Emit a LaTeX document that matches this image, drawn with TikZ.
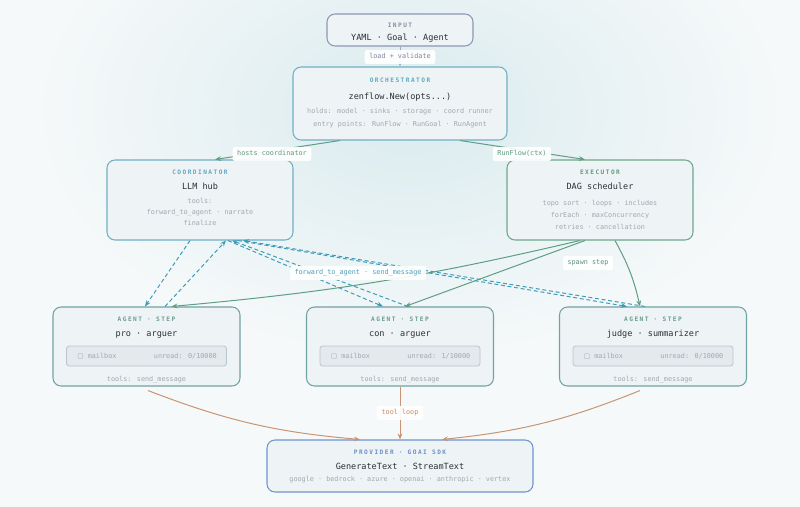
\documentclass[tikz,border=0pt]{standalone}
\usepackage{fontspec}
\setmainfont{DejaVu Sans Mono}
\newfontfamily\ttlfont[LetterSpace=24]{DejaVu Sans Mono}
\newfontfamily\symfont{DejaVu Sans}
\usetikzlibrary{arrows.meta,calc}
\definecolor{bgc}{HTML}{F6F9FA}
\definecolor{bgteal}{HTML}{DAEBEE}
\definecolor{boxfill}{HTML}{EEF3F5}
\definecolor{inputc}{HTML}{8E96B4}
\definecolor{orchc}{HTML}{6FB0C4}
\definecolor{execc}{HTML}{6FA88C}
\definecolor{agentc}{HTML}{70A3A4}
\definecolor{provc}{HTML}{7095CC}
\definecolor{mailfill}{HTML}{E3E9ED}
\definecolor{mailborder}{HTML}{B9C6CD}
\definecolor{inputT}{HTML}{8A90A8}
\definecolor{orchT}{HTML}{5FA9C3}
\definecolor{execT}{HTML}{5E9C80}
\definecolor{agentT}{HTML}{6B9C90}
\definecolor{provT}{HTML}{6D8FCC}
\definecolor{maintext}{HTML}{2A3137}
\definecolor{subtext}{HTML}{A0A9B0}
\definecolor{greenline}{HTML}{5F9E83}
\definecolor{dashc}{HTML}{3F9CB9}
\definecolor{orangec}{HTML}{C99473}
\definecolor{grayline}{HTML}{A0A8BC}
\definecolor{lblgray}{HTML}{7F879F}
\definecolor{lblgreen}{HTML}{5B9A7C}
\definecolor{lblteal}{HTML}{4F9FBC}
\definecolor{lblspawn}{HTML}{5F8F80}
\definecolor{lblorange}{HTML}{C98A60}
\begin{document}
\begin{tikzpicture}[x=0.75pt,y=-0.75pt,
  box/.style={draw, rounded corners=6pt, fill=boxfill, line width=0.8pt, inner sep=0pt},
  mailbx/.style={draw=mailborder, fill=mailfill, rounded corners=2pt, line width=0.6pt, inner sep=0pt, minimum width=120pt, minimum height=15pt},
  ttl/.style={font=\ttlfont\bfseries\fontsize{4.6}{5}\selectfont, inner sep=0pt, text height=3.4pt, text depth=0pt},
  maintxt/.style={font=\fontsize{6.4}{7.5}\selectfont, text=maintext, inner sep=0pt, text height=4.7pt, text depth=0pt},
  subtxt/.style={font=\fontsize{5.1}{6}\selectfont, text=subtext, inner sep=0pt, text height=3.7pt, text depth=0pt},
  lbl/.style={font=\fontsize{5.1}{6}\selectfont, fill=white, fill opacity=0.92, text opacity=1, rounded corners=1.5pt, inner xsep=3.5pt, inner ysep=2.6pt, text height=3.8pt, text depth=1.2pt},
  tip/.style={-{Stealth[length=4.5pt,width=3.6pt]}},
  conn/.style={tip, line width=0.75pt},
  dconn/.style={tip, line width=0.75pt, draw=dashc, dash pattern=on 3pt off 2pt}
]
\useasboundingbox (0,0) rectangle (800,507);
\begin{scope}
\clip (0,0) rectangle (800,507);
\fill[bgc] (0,0) rectangle (800,507);
\shade[inner color=bgteal, outer color=bgc] (410,110) ellipse (380 and 250);
\end{scope}

% ---------- boxes ----------
\node[box, draw=inputc, minimum width=109.5pt, minimum height=24pt] (input) at (400,30) {};
\node[ttl, text=inputT] (input-t) at (400,25) {INPUT};
\node[maintxt] (input-m) at (400,37) {YAML · Goal · Agent};

\node[box, draw=orchc, minimum width=160.5pt, minimum height=54.75pt] (orch) at (400,103.5) {};
\node[ttl, text=orchT] (orch-t) at (400,80) {ORCHESTRATOR};
\node[maintxt] (orch-m) at (400,96) {zenflow.New(opts...)};
\node[subtxt] (orch-s1) at (400,111) {holds: model · sinks · storage · coord runner};
\node[subtxt] (orch-s2) at (400,124) {entry points: RunFlow · RunGoal · RunAgent};

\node[box, draw=orchc, minimum width=139.5pt, minimum height=60pt] (coord) at (200,200) {};
\node[ttl, text=orchT] (coord-t) at (200,172) {COORDINATOR};
\node[maintxt] (coord-m) at (200,186) {LLM hub};
\node[subtxt] (coord-s1) at (200,201) {tools:};
\node[subtxt] (coord-s2) at (200,212) {forward\_to\_agent · narrate};
\node[subtxt] (coord-s3) at (200,223) {finalize};

\node[box, draw=execc, minimum width=139.5pt, minimum height=60pt] (exec) at (600,200) {};
\node[ttl, text=execT] (exec-t) at (600,172) {EXECUTOR};
\node[maintxt] (exec-m) at (600,186) {DAG scheduler};
\node[subtxt] (exec-s1) at (600,203) {topo sort · loops · includes};
\node[subtxt] (exec-s2) at (600,215) {forEach · maxConcurrency};
\node[subtxt] (exec-s3) at (600,227) {retries · cancellation};

% agents
\node[box, draw=agentc, minimum width=140.25pt, minimum height=59.25pt] (pro) at (146.5,346.5) {};
\node[ttl, text=agentT] (pro-t) at (146.5,319) {AGENT · STEP};
\node[maintxt] (pro-m) at (146.5,333) {pro · arguer};
\node[mailbx] (pro-mb) at (146.5,356) {};
\node[subtxt, anchor=west] (pro-ml) at (77,356) {{\symfont ▢} mailbox};
\node[subtxt, anchor=east] (pro-mr) at (217,356) {unread: 0/10000};
\node[subtxt] (pro-s) at (146.5,379) {tools: send\_message};

\node[box, draw=agentc, minimum width=140.25pt, minimum height=59.25pt] (con) at (400,346.5) {};
\node[ttl, text=agentT] (con-t) at (400,319) {AGENT · STEP};
\node[maintxt] (con-m) at (400,333) {con · arguer};
\node[mailbx] (con-mb) at (400,356) {};
\node[subtxt, anchor=west] (con-ml) at (330.5,356) {{\symfont ▢} mailbox};
\node[subtxt, anchor=east] (con-mr) at (470.5,356) {unread: 1/10000};
\node[subtxt] (con-s) at (400,379) {tools: send\_message};

\node[box, draw=agentc, minimum width=140.25pt, minimum height=59.25pt] (judge) at (653,346.5) {};
\node[ttl, text=agentT] (judge-t) at (653,319) {AGENT · STEP};
\node[maintxt] (judge-m) at (653,333) {judge · summarizer};
\node[mailbx] (judge-mb) at (653,356) {};
\node[subtxt, anchor=west] (judge-ml) at (583.5,356) {{\symfont ▢} mailbox};
\node[subtxt, anchor=east] (judge-mr) at (723.5,356) {unread: 0/10000};
\node[subtxt] (judge-s) at (653,379) {tools: send\_message};

\node[box, draw=provc, minimum width=199.5pt, minimum height=39pt] (prov) at (400,466) {};
\node[ttl, text=provT] (prov-t) at (400,452) {PROVIDER · GOAI SDK};
\node[maintxt] (prov-m) at (400,466) {GenerateText · StreamText};
\node[subtxt] (prov-s) at (400,479) {google · bedrock · azure · openai · anthropic · vertex};

% ---------- connectors ----------
\draw[conn, draw=grayline] (input.south) -- (orch.north);
\draw[conn, draw=greenline] ($(orch.south)+(-60,0)$) -- ($(coord.north)+(15,0)$);
\draw[conn, draw=greenline] ($(orch.south)+(60,0)$) -- ($(exec.north)+(-15,0)$);

\draw[conn, draw=greenline] ($(exec.south)+(-20,0)$) to[bend left=4] ($(pro.north)+(25,0)$);
\draw[conn, draw=greenline] ($(exec.south)+(-15,0)$) -- ($(con.north)+(5,0)$);
\draw[conn, draw=greenline] ($(exec.south)+(15,0)$) to[bend left=8] ($(judge.north)+(-13,0)$);

\draw[dconn] ($(coord.south)+(-10,0)$) -- ($(pro.north)+(-1.5,0)$);
\draw[dconn] ($(pro.north)+(18.5,0)$) -- ($(coord.south)+(26,0)$);
\draw[dconn] ($(coord.south)+(28,0)$) -- ($(con.north)+(-17,0)$);
\draw[dconn] ($(con.north)+(8,0)$) -- ($(coord.south)+(32,0)$);
\draw[dconn] ($(coord.south)+(38,0)$) -- ($(judge.north)+(-26,0)$);
\draw[dconn] ($(judge.north)+(-8,0)$) -- ($(coord.south)+(43,0)$);

\draw[conn, draw=orangec] ($(pro.south)+(1.5,4)$) to[bend right=8] ($(prov.north)+(-40,0)$);
\draw[conn, draw=orangec] (con.south) -- (prov.north);
\draw[conn, draw=orangec] ($(judge.south)+(-13,4)$) to[bend left=8] ($(prov.north)+(42,0)$);

% ---------- labels ----------
\node[lbl, text=lblgray] (l-load) at (400,57) {load + validate};
\node[lbl, text=lblgreen] (l-host) at (272,154) {hosts coordinator};
\node[lbl, text=lblgreen] (l-run) at (522,154) {RunFlow(ctx)};
\node[lbl, text=lblteal] (l-fwd) at (358,273) {forward\_to\_agent · send\_message};
\node[lbl, text=lblspawn] (l-spawn) at (588,263) {spawn step};
\node[lbl, text=lblorange] (l-tool) at (400,413) {tool loop};
\end{tikzpicture}
\end{document}
